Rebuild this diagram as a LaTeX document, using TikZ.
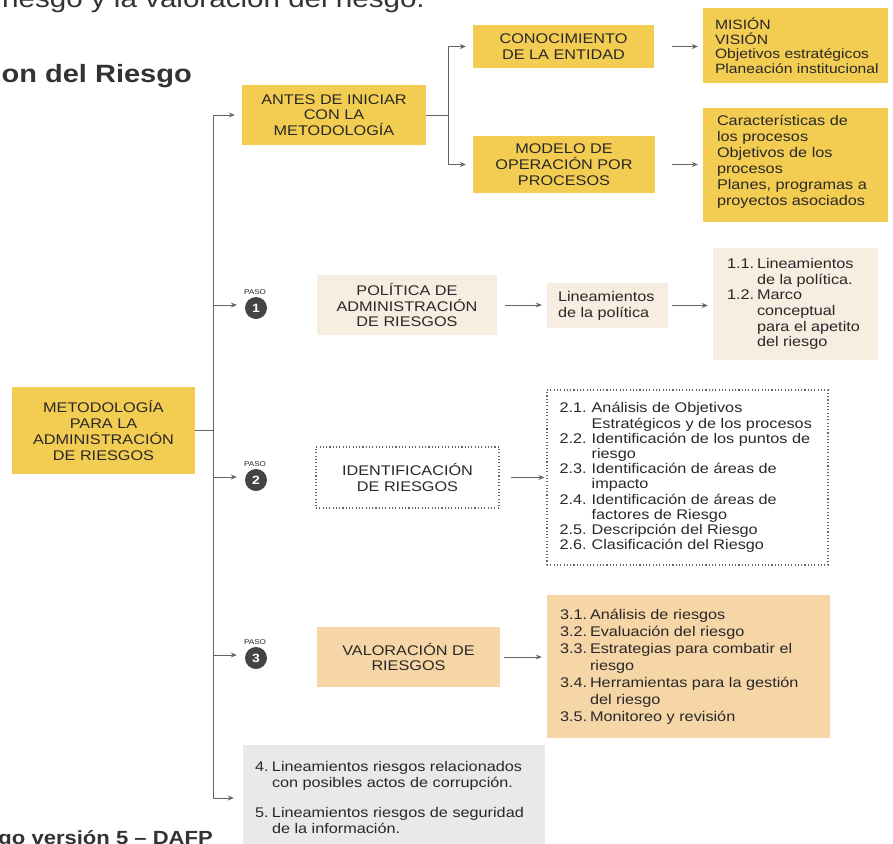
\documentclass[tikz,border=0pt]{standalone}
\usepackage{fontspec}
\setmainfont[FakeStretch=1.16]{Liberation Sans}
\usetikzlibrary{arrows.meta}
\definecolor{yfill}{RGB}{243,204,82}
\definecolor{beige}{RGB}{247,237,225}
\definecolor{peach}{RGB}{246,213,166}
\definecolor{greyfill}{RGB}{233,233,233}
\definecolor{txt}{RGB}{40,40,40}
\definecolor{ln}{RGB}{100,100,100}
\definecolor{circ}{RGB}{68,68,68}
\newlength\lsind
\newcommand\lsitem[2]{\leavevmode\hbox to\lsind{#1\hfil}#2}
\newcommand\lscont[1]{\leavevmode\hbox to\lsind{\hfil}#1}
\tikzset{
  box/.style={inner sep=0pt, align=center, text=txt, font=\fontsize{14bp}{15.8bp}\selectfont},
  ybox/.style={box, fill=yfill},
  bbox/.style={box, fill=beige},
  pbox/.style={box, fill=peach},
  gbox/.style={box, fill=greyfill},
  dbox/.style={box, draw=ln, line width=1.1bp, dash pattern=on 1.1bp off 2.2bp},
  ltxt/.style={inner sep=0pt, align=left, text=txt, anchor=west},
  ln/.style={draw=ln, line width=1bp},
  arr/.style={ln, -{Stealth[length=6bp,width=5bp]}},
  stepc/.style={circle, fill=circ, text=white, minimum size=22bp, inner sep=0pt, font=\bfseries\fontsize{12bp}{12bp}\selectfont},
  pasot/.style={inner sep=0pt, text=txt, font=\fontsize{7bp}{8bp}\selectfont},
}
\begin{document}
\begin{tikzpicture}[x=1bp,y=-1bp]
\fill[white] (0,0) rectangle (893,844);
\useasboundingbox (0,0) rectangle (893,844);

% cropped page texts
\node[anchor=base east, inner sep=0pt, text=black!80, font=\fontsize{25.5bp}{30bp}\selectfont] (hdr) at (425,7) {riesgo y la valoración del riesgo.};
\node[anchor=base east, inner sep=0pt, text=black!80, font=\bfseries\fontsize{25bp}{30bp}\selectfont] (title) at (192,82) {on del Riesgo};
\node[anchor=base east, inner sep=0pt, text=black!80, font=\bfseries\fontsize{19bp}{22bp}\selectfont] (src) at (213,844) {go versión 5 – DAFP};

% main box
\node[ybox, minimum width=183bp, minimum height=87bp] (main) at (103.5,430.5) {METODOLOGÍA\\PARA LA\\ADMINISTRACIÓN\\DE RIESGOS};

% antes
\node[ybox, minimum width=184bp, minimum height=60bp] (antes) at (334,115) {ANTES DE INICIAR\\CON LA\\METODOLOGÍA};
\node[ybox, minimum width=181bp, minimum height=43bp] (conoc) at (563.5,46.5) {CONOCIMIENTO\\DE LA ENTIDAD};
\node[ybox, minimum width=182bp, minimum height=57bp] (modelo) at (564,164.5) {MODELO DE\\OPERACIÓN POR\\PROCESOS};
\node[ybox, minimum width=185bp, minimum height=75bp] (mision) at (795.5,45.5) {};
\node[ltxt, font=\fontsize{13.5bp}{14.5bp}\selectfont] (misiont) at ([xshift=12bp]mision.west) {MISIÓN\\VISIÓN\\Objetivos estratégicos\\Planeación institucional};
\node[ybox, minimum width=185bp, minimum height=114bp] (caract) at (795.5,165) {};
\node[ltxt, font=\fontsize{14bp}{16bp}\selectfont] (caractt) at ([xshift=14bp,yshift=3bp]caract.west) {Características de\\los procesos\\Objetivos de los\\procesos\\Planes, programas a\\proyectos asociados};

% paso 1
\node[bbox, minimum width=180bp, minimum height=60bp] (politica) at (407,305) {POLÍTICA DE\\ADMINISTRACIÓN\\DE RIESGOS};
\node[bbox, minimum width=121bp, minimum height=45bp] (lineam) at (607.5,305.5) {};
\node[ltxt, font=\fontsize{14bp}{16bp}\selectfont] (lineamt) at ([xshift=11bp]lineam.west) {Lineamientos\\de la política};
\node[bbox, minimum width=165bp, minimum height=112bp] (p11) at (795.5,304) {};
\node[ltxt, font=\fontsize{14bp}{15.6bp}\selectfont] (p11t) at ([xshift=14bp]p11.west) {\global\lsind=30bp\lsitem{1.1.}{Lineamientos}\\\lscont{de la política.}\\\lsitem{1.2.}{Marco}\\\lscont{conceptual}\\\lscont{para el apetito}\\\lscont{del riesgo}};

% paso 2
\node[dbox, minimum width=183bp, minimum height=61bp] (ident) at (407.5,477.5) {IDENTIFICACIÓN\\DE RIESGOS};
\node[dbox, minimum width=281bp, minimum height=175bp] (p2) at (687.5,477.5) {};
\node[ltxt, font=\fontsize{14bp}{15.2bp}\selectfont] (p2t) at ([xshift=13bp]p2.west) {\global\lsind=32bp\lsitem{2.1.}{Análisis de Objetivos}\\\lscont{Estratégicos y de los procesos}\\\lsitem{2.2.}{Identificación de los puntos de}\\\lscont{riesgo}\\\lsitem{2.3.}{Identificación de áreas de}\\\lscont{impacto}\\\lsitem{2.4.}{Identificación de áreas de}\\\lscont{factores de Riesgo}\\\lsitem{2.5.}{Descripción del Riesgo}\\\lsitem{2.6.}{Clasificación del Riesgo}};

% paso 3
\node[pbox, minimum width=183bp, minimum height=60bp] (valor) at (408.5,657) {VALORACIÓN DE\\RIESGOS};
\node[pbox, minimum width=283bp, minimum height=143bp] (p3) at (688.5,666.5) {};
\node[ltxt, font=\fontsize{14bp}{17bp}\selectfont] (p3t) at ([xshift=13bp]p3.west) {\global\lsind=30bp\lsitem{3.1.}{Análisis de riesgos}\\\lsitem{3.2.}{Evaluación del riesgo}\\\lsitem{3.3.}{Estrategias para combatir el}\\\lscont{riesgo}\\\lsitem{3.4.}{Herramientas para la gestión}\\\lscont{del riesgo}\\\lsitem{3.5.}{Monitoreo y revisión}};

% grey box
\node[gbox, minimum width=302bp, minimum height=105bp] (grey) at (394,797.5) {};
\node[ltxt, font=\fontsize{14bp}{16bp}\selectfont] (greyt) at ([xshift=12bp]grey.west) {\global\lsind=17bp\lsitem{4.}{Lineamientos riesgos relacionados}\\\lscont{con posibles actos de corrupción.}\\[14bp]\lsitem{5.}{Lineamientos riesgos de seguridad}\\\lscont{de la información.}};

% steps
\node[stepc] (c1) at (256,308) {1};
\node[pasot] (pl1) at (255,292) {PASO};
\node[stepc] (c2) at (256,480) {2};
\node[pasot] (pl2) at (255,464) {PASO};
\node[stepc] (c3) at (256,658) {3};
\node[pasot] (pl3) at (255,642) {PASO};

% trunk
\coordinate (tj) at (213,430.5);
\coordinate (ttop) at (213,115);
\coordinate (tbot) at (213,798);
\coordinate (s1) at (213,305);
\coordinate (s2) at (213,477);
\coordinate (s3) at (213,655);
\draw[ln] (main.east) -- (tj);
\draw[arr, shorten >=7bp] (tbot) -- (ttop) -- (antes.west);
\draw[arr, shorten >=9bp] (tj) -- (tbot) -- (tbot -| grey.west);
\draw[arr, shorten >=8bp] (s1) -- (s1 -| c1.west);
\draw[arr, shorten >=8bp] (s2) -- (s2 -| c2.west);
\draw[arr, shorten >=8bp] (s3) -- (s3 -| c3.west);

% bracket
\coordinate (bk) at (448,115);
\draw[ln] (antes.east) -- (bk);
\draw[arr, shorten >=7bp] (bk) -- (bk |- conoc.west) -- (conoc.west);
\draw[arr, shorten >=7bp] (bk) -- (bk |- modelo.west) -- (modelo.west);

% horizontal arrows
\draw[arr, shorten <=18bp, shorten >=5bp] (conoc.east) -- (conoc.east -| mision.west);
\draw[arr, shorten <=17bp, shorten >=5bp] (modelo.east) -- (modelo.east -| caract.west);
\draw[arr, shorten <=8bp, shorten >=5bp] (politica.east) -- (politica.east -| lineam.west);
\draw[arr, shorten <=4bp, shorten >=5bp] (lineam.east) -- (lineam.east -| p11.west);
\draw[arr, shorten <=11bp, shorten >=2bp] (ident.east) -- (ident.east -| p2.west);
\draw[arr, shorten <=4bp, shorten >=5bp] (valor.east) -- (valor.east -| p3.west);
\end{tikzpicture}
\end{document}
